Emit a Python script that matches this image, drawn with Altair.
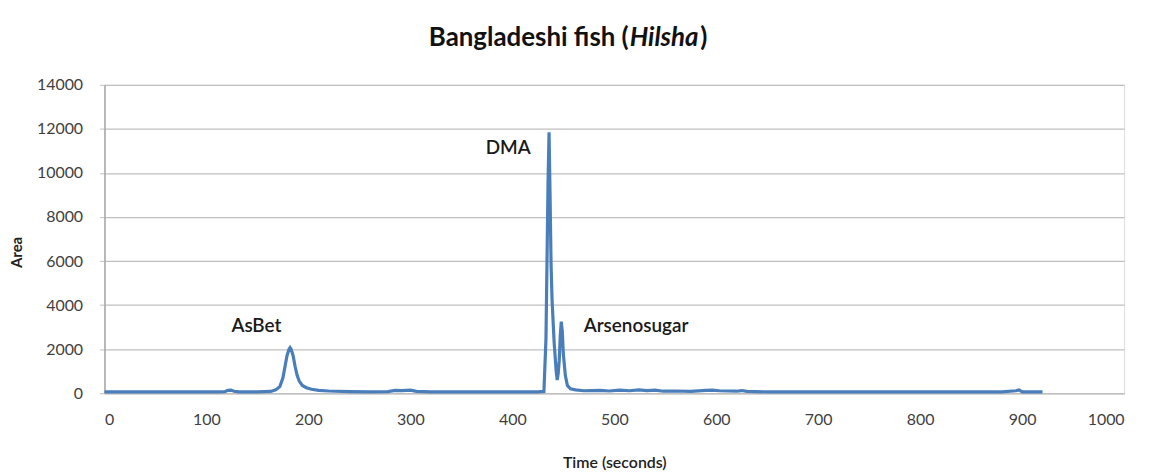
import altair as alt
import pandas as pd

# Chromatogram trace (time in seconds, area)
time = [0, 30, 60, 90, 110, 118, 121, 124, 127, 132, 150, 163, 168, 172, 175, 177,
        179, 181, 182, 183, 185, 187, 189, 191, 194, 198, 203, 210, 220, 240, 260,
        278, 285, 292, 300, 306, 320, 360, 400, 425, 431, 433, 434, 435, 436, 437,
        438, 439, 441, 443, 444, 445, 446, 447, 448, 449, 450, 452, 454, 457, 462,
        470, 486, 495, 505, 515, 524, 532, 540, 548, 560, 575, 590, 596, 603, 620,
        625, 630, 650, 700, 800, 880, 894, 897, 900, 920]
area = [60, 60, 60, 60, 60, 70, 130, 140, 90, 60, 60, 80, 150, 300, 700, 1200,
        1700, 2000, 2070, 2000, 1700, 1200, 800, 550, 350, 250, 180, 130, 100, 70, 60,
        70, 130, 120, 140, 80, 60, 60, 60, 60, 80, 2500, 6000, 9500, 11850, 9000,
        5800, 4200, 2300, 1000, 600, 900, 1500, 2600, 3250, 2800, 1800, 800, 350, 200, 150,
        110, 130, 100, 140, 110, 150, 120, 140, 90, 100, 80, 130, 140, 110, 90,
        120, 80, 60, 60, 60, 60, 110, 150, 60, 60]

# Peak labels (placed in data space)
label_text = ["AsBet", "DMA", "Arsenosugar"]
label_time = [149, 396, 470]
label_area = [3070, 11110, 3030]
label_align = ["center", "center", "left"]

x_ticks = [0, 100, 200, 300, 400, 500, 600, 700, 800, 900, 1000]
y_ticks = [0, 2000, 4000, 6000, 8000, 10000, 12000, 14000]

FONT = "Lato"
W, H = 1025, 310

trace = pd.DataFrame({"time": time, "area": area})
labels = pd.DataFrame({"text": label_text, "time": label_time,
                       "area": label_area, "align": label_align})

xscale = alt.Scale(domain=[0, 1000], nice=False, zero=False)
yscale = alt.Scale(domain=[0, 14000], nice=False)

line = alt.Chart(trace).mark_line(color="#4a7ebb", strokeWidth=3.2).encode(
    x=alt.X("time:Q", scale=xscale,
            axis=alt.Axis(values=x_ticks, format="d", title="Time (seconds)",
                          grid=False, ticks=False, labelPadding=18, labelFontSize=16,
                          labelColor="#404040", labelFont=FONT,
                          titleFont=FONT, titleFontSize=16, titleFontWeight=600,
                          titleColor="#222222", titlePadding=28,
                          domainColor="#bfbfbf", domainWidth=1.5)),
    y=alt.Y("area:Q", scale=yscale,
            axis=alt.Axis(values=y_ticks, format="d", title="Area", grid=True,
                          gridColor="#bfbfbf", gridWidth=1.2,
                          tickColor="#bfbfbf", tickSize=5, labelPadding=17,
                          labelFontSize=16, labelColor="#404040", labelFont=FONT,
                          titleFont=FONT, titleFontSize=15, titleFontWeight="bold",
                          titleColor="#222222", titleX=-80, titleY=168,
                          domainColor="#a6a6a6", domainWidth=1.5)),
)

left_labels = alt.Chart(labels[labels["align"] == "center"]).mark_text(
    font=FONT, fontSize=19, fontWeight=600, color="#1a1a1a", align="center",
    baseline="middle").encode(x="time:Q", y="area:Q", text="text:N")
right_labels = alt.Chart(labels[labels["align"] == "left"]).mark_text(
    font=FONT, fontSize=19, fontWeight=600, color="#1a1a1a", align="left",
    baseline="middle").encode(x="time:Q", y="area:Q", text="text:N")

title_df = pd.DataFrame({"a": [0]})
t1 = alt.Chart(title_df).mark_text(font=FONT, fontSize=26, fontWeight="bold",
                                   color="#111111", align="right",
                                   baseline="alphabetic").encode(
    x=alt.value(527), y=alt.value(-39), text=alt.value("Bangladeshi fish ("))
t2 = alt.Chart(title_df).mark_text(font=FONT, fontSize=26, fontWeight="bold",
                                   fontStyle="italic", color="#111111", align="left",
                                   baseline="alphabetic").encode(
    x=alt.value(528), y=alt.value(-39), text=alt.value("Hilsha"))
t3 = alt.Chart(title_df).mark_text(font=FONT, fontSize=26, fontWeight="bold",
                                   color="#111111", align="left",
                                   baseline="alphabetic").encode(
    x=alt.value(599), y=alt.value(-39), text=alt.value(")"))

chart = alt.layer(line, left_labels, right_labels, t1, t2, t3).properties(
    width=W, height=H,
    autosize=alt.AutoSizeParams(type="none"),
    padding={"left": 97, "top": 76, "right": 20, "bottom": 78},
).configure_view(stroke=None).configure(background="white")

chart.save("out.html", embed_options={"renderer": "svg", "actions": False})
